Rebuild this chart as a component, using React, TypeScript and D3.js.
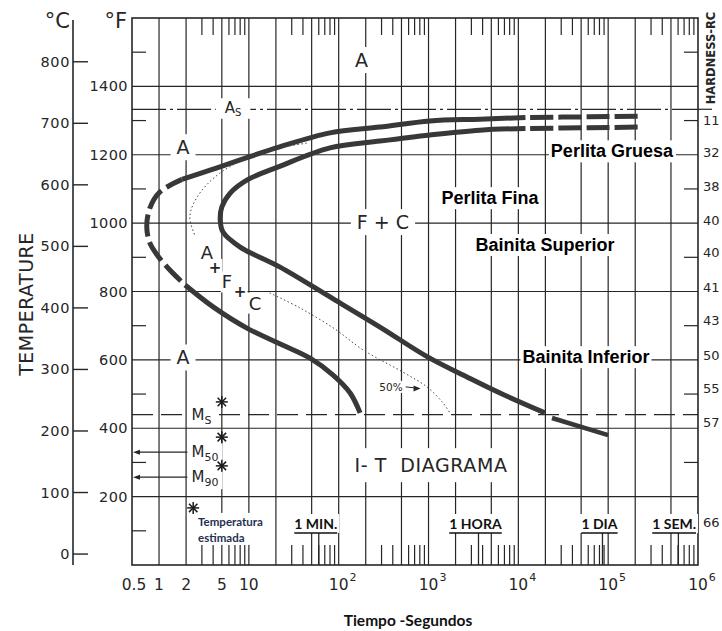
import * as d3 from 'd3';
import React, { useRef, useEffect } from 'react';

const WIDTH = 722;
const HEIGHT = 631;

// time axis (seconds)
const timeGrid = [1, 2, 5, 10, 20, 50, 100, 200, 500, 1e3, 2e3, 5e3, 1e4, 2e4, 5e4, 1e5, 2e5, 5e5];
const decades = [1, 10, 100, 1e3, 1e4, 1e5];
const minorSteps = [3, 4, 6, 7, 8, 9];
const plainTimeTicks = [0.5, 1, 2, 5, 10];
const plainTimeLabels = ['0.5', '1', '2', '5', '10'];
const powerTicks = [2, 3, 4, 5, 6];
const markTimes = [60, 3600, 86400, 604800];
const markLabels = ['1 MIN.', '1 HORA', '1 DIA', '1 SEM.'];

// temperature axes
const fahrenheitGrid = [200, 400, 600, 800, 1000, 1200, 1400];
const fahrenheitMinor = [100, 300, 500, 700, 900, 1100, 1300, 1500];
const celsiusTicks = [0, 100, 200, 300, 400, 500, 600, 700, 800];
const hardnessTemps = [1299, 1208, 1108, 1009, 913, 813, 714, 614, 515, 418, 123];
const hardnessLabels = ['11', '32', '38', '40', '40', '41', '43', '50', '55', '57', '66'];

// critical temperatures, °F
const asTemp = 1333;
const msTemp = 440;
const m50Temp = 330;
const m90Temp = 257;

// estimated martensite temperatures (asterisks)
const starTimes = [5, 5, 5, 2.4];
const starTemps = [477, 374, 290, 167];

// transformation curves, [seconds, °F]
const startTail = [[2.4e5, 1313], [6e4, 1311], [1.2e4, 1309]];
const startUpper = [[1.2e4, 1309], [3740, 1304], [1040, 1299], [288, 1281], [80, 1264], [22, 1223], [8, 1185], [3.7, 1155], [1.8, 1128]];
const startNose = [[1.8, 1128], [1.02, 1091], [0.79, 1044], [0.73, 989], [0.79, 942], [0.97, 904], [1.32, 863], [1.95, 819]];
const startLower = [[1.95, 819], [4, 755], [9.5, 693], [24, 643], [48, 605], [86, 556], [134, 503], [173, 445]];

const endTail = [[2.4e5, 1281], [6e4, 1279], [1.2e4, 1277]];
const endCurve = [[1.2e4, 1277], [3740, 1272], [1040, 1258], [288, 1240], [80, 1220], [22, 1166], [9.5, 1126], [6.2, 1088], [5, 1047], [4.8, 1009], [5.15, 974], [8, 930], [22, 872], [80, 784], [288, 696], [986, 608], [2680, 550], [6250, 503], [19800, 445]];
const endBelowMs = [[23700, 430], [1e5, 380]];

const halfUpper = [[44, 1234], [14.4, 1208], [4.8, 1147], [2.65, 1076], [2.2, 1018], [2.5, 965]];
const halfLower = [[17, 796], [37, 752], [91, 690], [187, 629], [520, 564], [960, 521], [1450, 474], [1730, 445]];

// annotations placed in data units [seconds, °F]
const phaseLabels = [
  { text: 'A', t: 180, T: 1477 },
  { text: 'A', t: 1.85, T: 1222 },
  { text: 'F + C', t: 311, T: 1003 },
  { text: 'A', t: 1.85, T: 607 },
];
const mixLabels = [
  { text: 'A', t: 3.42, T: 913, big: true },
  { text: '+', t: 4.2, T: 869, big: false },
  { text: 'F', t: 5.7, T: 828, big: true },
  { text: '+', t: 8.0, T: 798, big: false },
  { text: 'C', t: 11.7, T: 766, big: true },
];
const structureLabels = [
  { text: 'Perlita Gruesa', t: 1.1e5, T: 1210 },
  { text: 'Perlita Fina', t: 4830, T: 1073 },
  { text: 'Bainita Superior', t: 19800, T: 936 },
  { text: 'Bainita Inferior', t: 56600, T: 608 },
];

function App() {
  const ref = useRef(null);

  useEffect(() => {
    const svg = d3.select(ref.current);
    svg.selectAll('*').remove();

    const x = d3.scaleLog().domain([0.5, 1e6]).range([132, 698]);
    const y = d3.scaleLinear().domain([0, 1600]).range([565, 18]);
    const yC = (c) => y(c * 9 / 5 + 32);
    const ink = '#262626';
    const scan = 'DejaVu Sans, sans-serif';
    const left = x(0.5), right = x(1e6), top = y(1600), bottom = y(0);

    svg.append('rect').attr('width', WIDTH).attr('height', HEIGHT).attr('fill', '#fff');

    // grid
    const grid = svg.append('g').attr('stroke', ink).attr('stroke-width', 1.2);
    grid.selectAll('line.v').data(timeGrid).join('line').attr('class', 'v')
      .attr('x1', d => x(d)).attr('x2', d => x(d)).attr('y1', top).attr('y2', bottom);
    grid.selectAll('line.h').data(fahrenheitGrid).join('line').attr('class', 'h')
      .attr('x1', left).attr('x2', right).attr('y1', d => y(d)).attr('y2', d => y(d));

    const minorTimes = decades.flatMap(d => minorSteps.map(m => d * m));
    grid.selectAll('line.mb').data(minorTimes).join('line').attr('class', 'mb')
      .attr('x1', d => x(d)).attr('x2', d => x(d)).attr('y1', bottom).attr('y2', bottom - 20);
    grid.selectAll('line.mt').data(minorTimes).join('line').attr('class', 'mt')
      .attr('x1', d => x(d)).attr('x2', d => x(d)).attr('y1', top).attr('y2', top + 17);
    grid.selectAll('line.ml').data(fahrenheitMinor).join('line').attr('class', 'ml')
      .attr('x1', left).attr('x2', left + 14).attr('y1', d => y(d)).attr('y2', d => y(d));
    grid.selectAll('line.mr').data(fahrenheitMinor).join('line').attr('class', 'mr')
      .attr('x1', right).attr('x2', right - 14).attr('y1', d => y(d)).attr('y2', d => y(d));

    svg.append('rect').attr('x', left).attr('y', top).attr('width', right - left).attr('height', bottom - top)
      .attr('fill', 'none').attr('stroke', ink).attr('stroke-width', 1.6);

    // celsius axis
    const cAxisX = 73;
    svg.append('line').attr('x1', cAxisX).attr('x2', cAxisX).attr('y1', 20).attr('y2', bottom)
      .attr('stroke', ink).attr('stroke-width', 1.6);
    svg.append('g').selectAll('line').data(celsiusTicks).join('line')
      .attr('x1', cAxisX).attr('x2', cAxisX + 15).attr('y1', d => yC(d)).attr('y2', d => yC(d))
      .attr('stroke', ink).attr('stroke-width', 1.4);
    svg.append('g').selectAll('text').data(celsiusTicks).join('text')
      .attr('x', cAxisX - 3).attr('y', d => yC(d)).attr('dominant-baseline', 'central')
      .attr('text-anchor', 'end').attr('font-family', scan).attr('font-size', 14.5).attr('fill', ink)
      .attr('letter-spacing', 0.6).text(d => d);

    // fahrenheit labels
    svg.append('g').selectAll('text').data(fahrenheitGrid).join('text')
      .attr('x', left - 4).attr('y', d => y(d)).attr('dominant-baseline', 'central')
      .attr('text-anchor', 'end').attr('font-family', scan).attr('font-size', 14.5).attr('fill', ink)
      .attr('letter-spacing', 0.4).text(d => d);

    svg.append('text').attr('x', 70).attr('y', 28).attr('text-anchor', 'end')
      .attr('font-family', scan).attr('font-size', 21).attr('fill', ink).text('°C');
    svg.append('text').attr('x', 127).attr('y', 28).attr('text-anchor', 'end')
      .attr('font-family', scan).attr('font-size', 21).attr('fill', ink).text('°F');
    svg.append('text').attr('transform', 'translate(33,304) rotate(-90)').attr('text-anchor', 'middle')
      .attr('font-family', scan).attr('font-size', 19).attr('fill', ink).attr('letter-spacing', 0.5)
      .text('TEMPERATURE');

    // hardness scale
    svg.append('text').attr('transform', 'translate(715,58) rotate(-90)').attr('text-anchor', 'middle')
      .attr('font-family', scan).attr('font-size', 11.5).attr('font-weight', 700).attr('fill', ink)
      .text('HARDNESS-RC');
    svg.append('line').attr('x1', right).attr('x2', 712).attr('y1', y(asTemp)).attr('y2', y(asTemp))
      .attr('stroke', ink).attr('stroke-width', 1.2);
    svg.append('g').selectAll('text').data(hardnessLabels).join('text')
      .attr('x', 703).attr('y', (d, i) => y(hardnessTemps[i])).attr('dominant-baseline', 'central')
      .attr('font-family', scan).attr('font-size', 13).attr('fill', ink)
      .text(d => d);

    // bottom axis labels
    svg.append('g').selectAll('text').data(plainTimeLabels).join('text')
      .attr('x', (d, i) => x(plainTimeTicks[i]) + (i === 0 ? 2 : 0)).attr('y', 590).attr('text-anchor', 'middle')
      .attr('font-family', scan).attr('font-size', 15.5).attr('fill', ink).text(d => d);
    powerTicks.forEach(p => {
      const px = x(Math.pow(10, p));
      const base = svg.append('text').attr('x', px).attr('y', 590).attr('text-anchor', 'middle')
        .attr('font-family', scan).attr('font-size', 15.5).attr('fill', ink).text('10');
      const w = base.node().getBBox().width;
      svg.append('text').attr('x', px + w / 2 + 1).attr('y', 581)
        .attr('font-family', scan).attr('font-size', 11).attr('fill', ink).text(p);
    });
    svg.append('text').attr('x', 408).attr('y', 626).attr('text-anchor', 'middle')
      .attr('font-family', 'Lato, sans-serif').attr('font-weight', 700).attr('font-size', 15.5)
      .attr('fill', '#111').text('Tiempo -Segundos');

    // time markers
    markTimes.forEach((t, i) => {
      const px = x(t);
      svg.append('line').attr('x1', px).attr('x2', px).attr('y1', 533).attr('y2', bottom)
        .attr('stroke', ink).attr('stroke-width', 1.3);
      const txt = svg.append('text').attr('y', 529).attr('text-anchor', 'middle')
        .attr('font-family', 'Lato, sans-serif').attr('font-weight', 700).attr('font-size', 14)
        .attr('fill', '#111').text(markLabels[i]);
      const w = txt.node().getBBox().width;
      const cx = Math.min(px - 3, right - w / 2 - 2);
      txt.attr('x', cx);
      const b = txt.node().getBBox();
      svg.insert('rect', () => txt.node()).attr('x', b.x - 2).attr('y', b.y - 1)
        .attr('width', b.width + 4).attr('height', b.height + 2).attr('fill', '#fff');
      svg.append('line').attr('x1', cx - w / 2).attr('x2', cx + w / 2).attr('y1', 533).attr('y2', 533)
        .attr('stroke', '#111').attr('stroke-width', 1.5);
    });

    // As and Ms lines
    svg.append('line').attr('x1', left).attr('x2', right).attr('y1', y(asTemp)).attr('y2', y(asTemp))
      .attr('stroke', ink).attr('stroke-width', 1.2).attr('stroke-dasharray', '34,4,3,4');
    svg.append('line').attr('x1', left).attr('x2', right).attr('y1', y(msTemp)).attr('y2', y(msTemp))
      .attr('stroke', ink).attr('stroke-width', 1.3).attr('stroke-dasharray', '21,8');

    // M50 / M90 arrows
    [m50Temp, m90Temp].forEach(T => {
      const py = y(T);
      svg.append('line').attr('x1', x(2.2) - 2).attr('x2', left + 5).attr('y1', py).attr('y2', py)
        .attr('stroke', ink).attr('stroke-width', 1.2);
      svg.append('path').attr('d', `M${left + 1},${py} l7,-2.5 l0,5 z`).attr('fill', ink);
    });

    // labels with white backgrounds
    const boxed = (cx, cy, build, padX, padY) => {
      const g = svg.append('g');
      const text = g.append('text').attr('x', cx).attr('y', cy).attr('text-anchor', 'middle')
        .attr('dominant-baseline', 'central').style('white-space', 'pre');
      build(text);
      const b = text.node().getBBox();
      g.insert('rect', 'text').attr('x', b.x - padX).attr('y', b.y - padY)
        .attr('width', b.width + 2 * padX).attr('height', b.height + 2 * padY).attr('fill', '#fff');
      return text;
    };

    phaseLabels.forEach(d => boxed(x(d.t), y(d.T), s => s.attr('font-family', scan).attr('font-size', 19)
      .attr('fill', ink).text(d.text), 6, 2));
    mixLabels.forEach(d => boxed(x(d.t), y(d.T), s => s.attr('font-family', scan)
      .attr('font-size', d.big ? 18 : 15).attr('font-weight', d.big ? 400 : 700).attr('fill', ink).text(d.text), 1, 0));
    structureLabels.forEach(d => boxed(x(d.t), y(d.T), s => s.attr('font-family', 'Liberation Sans, Arial, sans-serif')
      .attr('font-size', 18).attr('font-weight', 700).attr('fill', '#000').text(d.text), 2, 1));

    boxed(x(1066), y(292), s => s.attr('font-family', scan).attr('font-size', 19).attr('fill', ink)
      .attr('letter-spacing', 0.6).text('I- T  DIAGRAMA'), 8, 6);

    boxed(x(6.66), y(asTemp) - 1, s => {
      s.attr('font-family', scan).attr('fill', ink);
      s.append('tspan').attr('font-size', 15).text('A');
      s.append('tspan').attr('font-size', 10).attr('dy', 4).text('S');
    }, 9, 1);

    const subLabel = (T, sub) => {
      const g = svg.append('g');
      const text = g.append('text').attr('x', x(2.3)).attr('y', y(T) + 5)
        .attr('font-family', scan).attr('fill', ink);
      text.append('tspan').attr('font-size', 15).text('M');
      text.append('tspan').attr('font-size', 11).attr('dy', 4).text(sub);
      const b = text.node().getBBox();
      g.insert('rect', 'text').attr('x', b.x - 4).attr('y', b.y)
        .attr('width', b.width + 8).attr('height', b.height).attr('fill', '#fff');
    };
    subLabel(msTemp, 'S');
    subLabel(m50Temp, '50');
    subLabel(m90Temp, '90');

    const half = boxed(x(382), y(521), s => s.attr('font-family', scan).attr('font-size', 10.5)
      .attr('fill', ink).text('50%'), 1, 0);
    const hb = half.node().getBBox();
    svg.append('line').attr('x1', hb.x + hb.width + 3).attr('x2', x(760)).attr('y1', y(521)).attr('y2', y(517))
      .attr('stroke', ink).attr('stroke-width', 1);
    svg.append('path').attr('d', `M${x(815)},${y(516)} l-7,-3 l0,6 z`).attr('fill', ink);

    const est = svg.append('g');
    ['Temperatura', 'estimada'].forEach((s, i) => {
      est.append('text').attr('x', x(2.72)).attr('y', y(126) + 4 + i * 16)
        .attr('font-family', 'Lato, sans-serif').attr('font-weight', 700).attr('font-size', 11.5)
        .attr('fill', '#1f2f52').text(s);
    });
    const eb = est.node().getBBox();
    est.insert('rect', 'text').attr('x', eb.x - 3).attr('y', eb.y - 2)
      .attr('width', eb.width + 6).attr('height', eb.height + 3).attr('fill', '#fff');

    // curves
    const line = d3.line().x(d => x(d[0])).y(d => y(d[1])).curve(d3.curveCatmullRom.alpha(0.5));
    const heavy = '#383838';
    const draw = (pts, dash, offset) => svg.append('path').attr('d', line(pts)).attr('fill', 'none')
      .attr('stroke', heavy).attr('stroke-width', 5).attr('stroke-dasharray', dash || null)
      .attr('stroke-dashoffset', offset || 0);

    draw(startUpper);
    draw(startLower);
    draw(startNose.slice().reverse(), '22,6', 22);
    draw(startTail.slice().reverse(), '23,5', 23);
    draw(endCurve);
    draw(endTail.slice().reverse(), '23,5', 23);
    draw(endBelowMs).attr('stroke-width', 4.5);

    [halfUpper, halfLower].forEach(pts => svg.append('path').attr('d', line(pts)).attr('fill', 'none')
      .attr('stroke', '#444').attr('stroke-width', 1).attr('stroke-dasharray', '1.5,2.5'));

    // asterisks
    starTimes.forEach((t, i) => {
      const g = svg.append('g').attr('transform', `translate(${x(t)},${y(starTemps[i])})`)
        .attr('stroke', '#1a1a1a').attr('stroke-width', 1.5);
      [0, 45, 90, 135].forEach(a => g.append('line').attr('x1', -6).attr('x2', 6)
        .attr('transform', `rotate(${a})`));
    });
  }, []);

  return (
    <svg ref={ref} width={WIDTH} height={HEIGHT}
      style={{ position: 'absolute', left: 0, top: 0, background: '#fff' }}>
    </svg>
  );
}

export default App;
